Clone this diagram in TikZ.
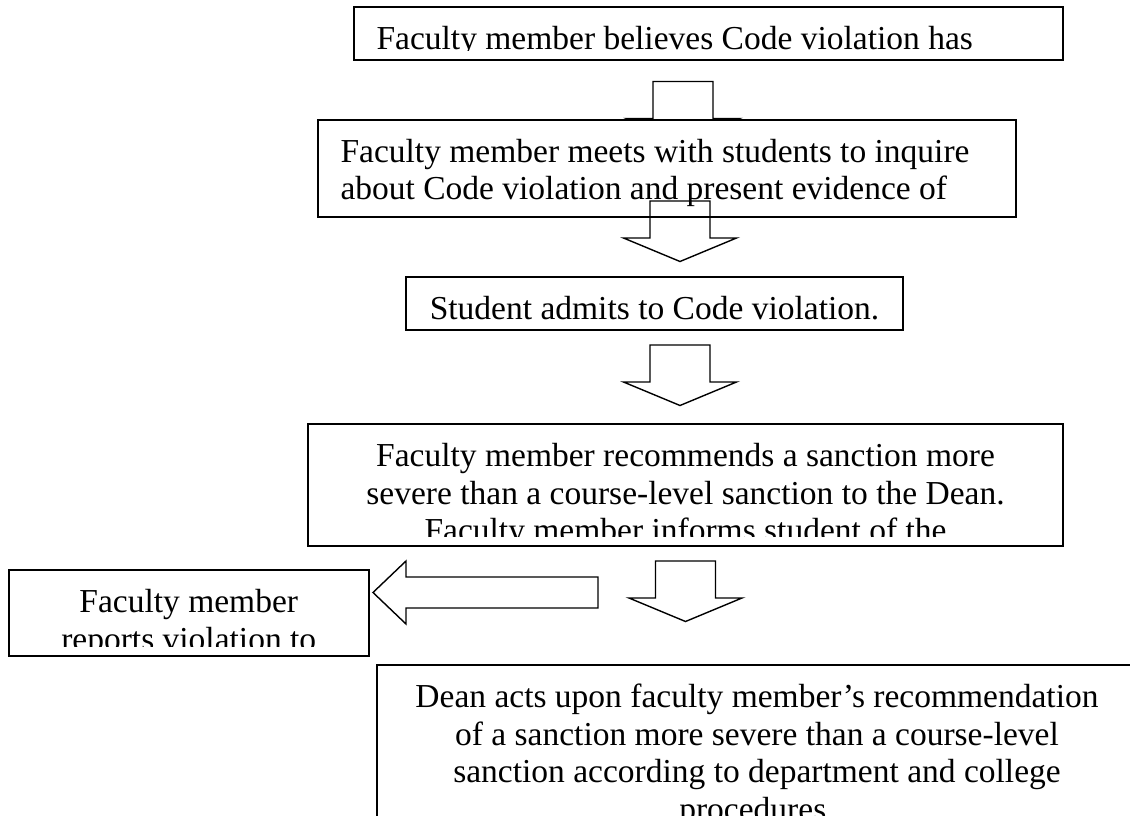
\documentclass[tikz,border=0pt]{standalone}
\usepackage{fontspec}
\setmainfont{Liberation Serif}
\usetikzlibrary{positioning}

\begin{document}
\begin{tikzpicture}[x=1pt, y=-1pt]
     		%define block styles
     		\tikzset{
     			textbox/.style={rectangle, draw=black, line width=2pt, fill=white, inner sep=0pt},
     			words/.style={font=\fontsize{33.5}{37.5}\selectfont, inner sep=0pt, draw=none, fill=none, minimum width=0pt, minimum height=0pt},
     			lefttext/.style 2 args={path picture={
     				\clip ([yshift=9.5pt]path picture bounding box.south west) rectangle (path picture bounding box.north east);
     				\node[words, align=left, anchor=north west] (#1) at ([xshift=21.5pt, yshift=-15.25pt]path picture bounding box.north west) {\strut #2};}},
     			centertext/.style 2 args={path picture={
     				\clip ([yshift=9.5pt]path picture bounding box.south west) rectangle (path picture bounding box.north east);
     				\node[words, align=center, anchor=north] (#1) at ([yshift=-15.25pt]path picture bounding box.north) {\strut #2};}},
     			arrowline/.style={draw=black, line width=1.4pt, line join=miter},
     			downblock/.pic={\draw[arrowline] (-30,0) -- (30,0) -- (30,37) -- (56.5,37) -- (0,60.5) -- (-56.5,37) -- (-30,37) -- cycle;},
     			leftblock/.pic={\draw[arrowline] (0,-15.5) -- (-192,-15.5) -- (-192,-31.5) -- (-225,0) -- (-192,31.5) -- (-192,15.5) -- (0,15.5) -- cycle;},}
     		\useasboundingbox (0,0) rectangle (1130,816);
     		\fill[white] (0,0) rectangle (1130,816);
     		\clip (0,0) rectangle (1130,816);
     		%define nodes
     		\node[textbox, minimum width=709pt, minimum height=53pt, lefttext={believestext}{Faculty member believes Code violation has}](believes) at (708.5,33.5) {};
     		\pic (arrowA) at (683,81.5) {downblock};
     		\node[textbox, minimum width=698pt, minimum height=97.5pt, below=57.5pt of believes, xshift=-41.5pt, lefttext={meetstext}{Faculty member meets with students to inquire\\about Code violation and present evidence of}](meets) {};
     		\pic (arrowB) at (680,201) {downblock};
     		\node[textbox, minimum width=497pt, minimum height=52.5pt, below=58pt of meets, xshift=-12.5pt, centertext={admitstext}{Student admits to Code violation.}](admits) {};
     		\pic (arrowC) at (680,345) {downblock};
     		\node[textbox, minimum width=755pt, minimum height=122pt, below=92.5pt of admits, xshift=31pt, centertext={recommendstext}{Faculty member recommends a sanction more\\severe than a course-level sanction to the Dean.\\Faculty member informs student of the}](recommends) {};
     		\pic (arrowD) at (598,592.5) {leftblock};
     		\pic (arrowE) at (685.5,561) {downblock};
     		\node[textbox, minimum width=360.5pt, minimum height=86pt, below=22pt of recommends, xshift=-496.75pt, centertext={reportstext}{Faculty member\\reports violation to}](reports) {};
     		\node[textbox, minimum width=760pt, minimum height=243pt, below=117pt of recommends, xshift=71.5pt, centertext={deantext}{Dean acts upon faculty member’s recommendation\\of a sanction more severe than a course-level\\sanction according to department and college\\procedures.}](dean) {};
     	\end{tikzpicture}
\end{document}
